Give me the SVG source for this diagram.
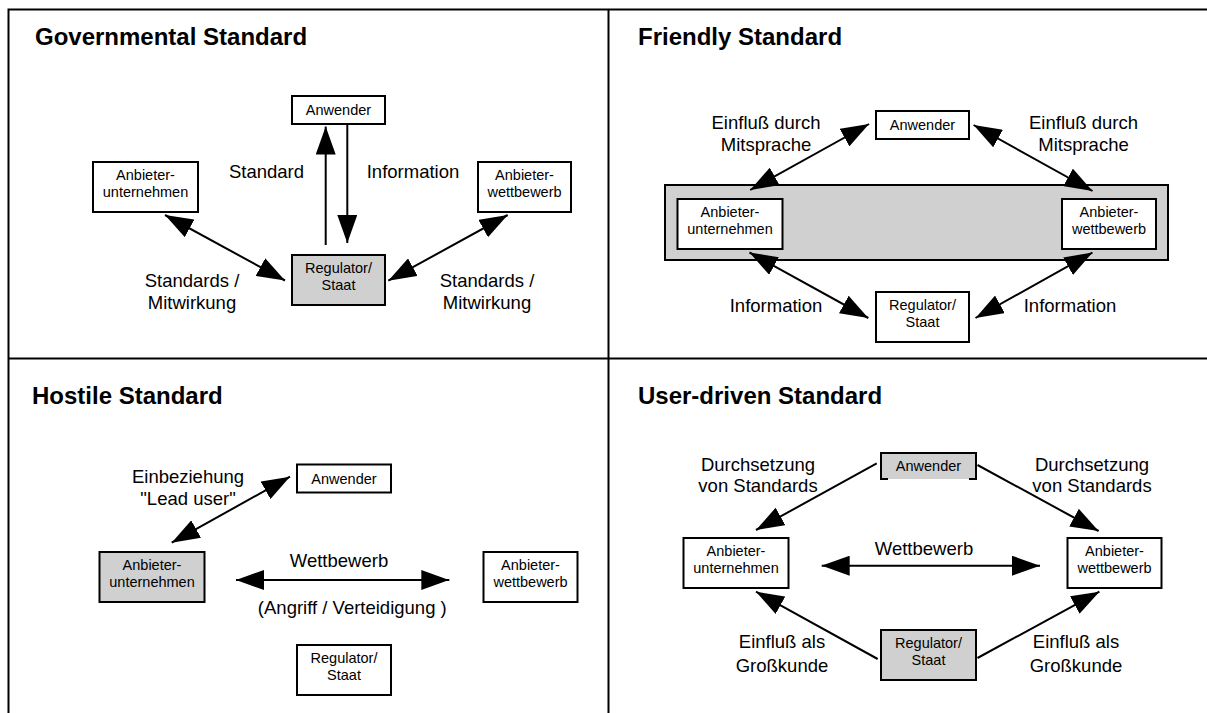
<svg xmlns="http://www.w3.org/2000/svg" width="1207" height="713" viewBox="0 0 1207 713">
<style>
  .frame{stroke:#000;stroke-width:2;fill:none}
  .box{fill:#fff;stroke:#000;stroke-width:2}
  .gbox{fill:#d0d0d0;stroke:#000;stroke-width:2}
  .bt{font-family:"Liberation Sans",Arial,Helvetica,sans-serif;font-size:14.5px;fill:#000;text-anchor:middle}
  .lb{font-family:"Liberation Sans",Arial,Helvetica,sans-serif;font-size:18.5px;fill:#000;text-anchor:middle}
  .tt{font-family:"Liberation Sans",Arial,Helvetica,sans-serif;font-size:24px;font-weight:bold;fill:#000}
  .ln{stroke:#000;stroke-width:2;fill:none}
  .dbl{marker-start:url(#ah);marker-end:url(#ah)}
  .one{marker-end:url(#ah)}
</style>
<defs>
  <marker id="ah" markerUnits="userSpaceOnUse" markerWidth="28" markerHeight="20" viewBox="0 0 28 20" refX="28" refY="10" orient="auto-start-reverse">
    <path d="M0,0 L28,10 L0,20 z" fill="#000"/>
  </marker>
</defs>
<rect width="1207" height="713" fill="#fff"/>
<g id="frame">
  <path class="frame" d="M8.5,713 V9.5 H1207 M608.5,9.5 V713 M8.5,358.5 H1207"/>
</g>

<!-- Governmental Standard -->
<text class="tt" x="35" y="45">Governmental Standard</text>
<g id="q1-anwender"><rect class="box" x="292" y="96" width="93" height="28"/><text class="bt" x="338.5" y="115">Anwender</text></g>
<g id="q1-unternehmen"><rect class="box" x="93" y="162" width="105" height="50"/><text class="bt" x="145.5" y="179.5">Anbieter-</text><text class="bt" x="145.5" y="197">unternehmen</text></g>
<g id="q1-wettbewerb"><rect class="box" x="478" y="162" width="93" height="50"/><text class="bt" x="524.5" y="179.5">Anbieter-</text><text class="bt" x="524.5" y="197">wettbewerb</text></g>
<g id="q1-regulator"><rect class="gbox" x="292" y="255" width="93" height="50"/><text class="bt" x="338.5" y="272.5">Regulator/</text><text class="bt" x="338.5" y="290">Staat</text></g>
<g id="q1-connectors">
  <line class="ln one" x1="325.7" y1="245" x2="325.7" y2="126.5"/>
  <line class="ln one" x1="347.3" y1="124" x2="347.3" y2="243"/>
  <line class="ln dbl" x1="165" y1="215" x2="285" y2="280.5"/>
  <line class="ln dbl" x1="507.7" y1="215" x2="388.3" y2="280.7"/>
</g>
<g id="q1-labels">
  <text class="lb" x="266.5" y="178">Standard</text>
  <text class="lb" x="413" y="178">Information</text>
  <text class="lb" x="192" y="287.3">Standards /</text>
  <text class="lb" x="192" y="309">Mitwirkung</text>
  <text class="lb" x="487" y="287.3">Standards /</text>
  <text class="lb" x="487" y="309">Mitwirkung</text>
</g>

<!-- Friendly Standard -->
<text class="tt" x="638" y="45">Friendly Standard</text>
<g id="q2-group"><rect class="gbox" x="665" y="185" width="503" height="75"/></g>
<g id="q2-anwender"><rect class="box" x="876" y="111" width="93" height="28"/><text class="bt" x="922.5" y="130">Anwender</text></g>
<g id="q2-unternehmen"><rect class="box" x="677.5" y="199" width="105" height="50"/><text class="bt" x="730" y="216.5">Anbieter-</text><text class="bt" x="730" y="234">unternehmen</text></g>
<g id="q2-wettbewerb"><rect class="box" x="1062" y="199" width="94" height="50"/><text class="bt" x="1109" y="216.5">Anbieter-</text><text class="bt" x="1109" y="234">wettbewerb</text></g>
<g id="q2-regulator"><rect class="box" x="876" y="292" width="93" height="50"/><text class="bt" x="922.5" y="309.5">Regulator/</text><text class="bt" x="922.5" y="327">Staat</text></g>
<g id="q2-connectors">
  <line class="ln dbl" x1="869" y1="124" x2="750.2" y2="190"/>
  <line class="ln dbl" x1="973.6" y1="125" x2="1092.5" y2="191"/>
  <line class="ln dbl" x1="749.5" y1="252.5" x2="868.3" y2="318"/>
  <line class="ln dbl" x1="1092.5" y1="252.5" x2="975.5" y2="318"/>
</g>
<g id="q2-labels">
  <text class="lb" x="766" y="129">Einfluß durch</text>
  <text class="lb" x="766" y="151">Mitsprache</text>
  <text class="lb" x="1083.5" y="129">Einfluß durch</text>
  <text class="lb" x="1083.5" y="151">Mitsprache</text>
  <text class="lb" x="776" y="311.7">Information</text>
  <text class="lb" x="1070" y="311.7">Information</text>
</g>

<!-- Hostile Standard -->
<text class="tt" x="32" y="404">Hostile Standard</text>
<g id="q3-anwender"><rect class="box" x="297" y="464.5" width="94" height="28"/><text class="bt" x="344" y="483.5">Anwender</text></g>
<g id="q3-unternehmen"><rect class="gbox" x="99.5" y="552" width="105" height="50"/><text class="bt" x="152" y="569.5">Anbieter-</text><text class="bt" x="152" y="587">unternehmen</text></g>
<g id="q3-wettbewerb"><rect class="box" x="483.5" y="552" width="94" height="50"/><text class="bt" x="530.5" y="569.5">Anbieter-</text><text class="bt" x="530.5" y="587">wettbewerb</text></g>
<g id="q3-regulator"><rect class="box" x="297" y="645" width="94" height="50"/><text class="bt" x="344" y="662.5">Regulator/</text><text class="bt" x="344" y="680">Staat</text></g>
<g id="q3-connectors">
  <line class="ln dbl" x1="290" y1="476.7" x2="171.7" y2="542.7"/>
  <line class="ln dbl" x1="236" y1="580" x2="449.3" y2="580"/>
</g>
<g id="q3-labels">
  <text class="lb" x="188" y="483.3">Einbeziehung</text>
  <text class="lb" x="188" y="505">"Lead user"</text>
  <text class="lb" x="339" y="566.7">Wettbewerb</text>
  <text class="lb" x="352.3" y="614">(Angriff / Verteidigung )</text>
</g>

<!-- User-driven Standard -->
<text class="tt" x="638" y="403.5">User-driven Standard</text>
<g id="q4-anwender">
  <rect x="881" y="453" width="95" height="26" fill="#d0d0d0"/>
  <path class="ln" d="M888,479 H881 V453 H976 V479 H969"/>
  <text class="bt" x="928.5" y="471">Anwender</text>
</g>
<g id="q4-unternehmen"><rect class="box" x="683.5" y="538" width="105" height="50"/><text class="bt" x="736" y="555.5">Anbieter-</text><text class="bt" x="736" y="573">unternehmen</text></g>
<g id="q4-wettbewerb"><rect class="box" x="1067.5" y="538" width="94" height="50"/><text class="bt" x="1114.5" y="555.5">Anbieter-</text><text class="bt" x="1114.5" y="573">wettbewerb</text></g>
<g id="q4-regulator"><rect class="gbox" x="881" y="630" width="95" height="50"/><text class="bt" x="928.5" y="647.5">Regulator/</text><text class="bt" x="928.5" y="665">Staat</text></g>
<g id="q4-connectors">
  <line class="ln one" x1="876.7" y1="463.3" x2="756" y2="530"/>
  <line class="ln one" x1="977.5" y1="465" x2="1098.6" y2="531"/>
  <line class="ln one" x1="877.7" y1="659" x2="756" y2="591.7"/>
  <line class="ln one" x1="977.5" y1="658" x2="1099.4" y2="591.7"/>
  <line class="ln dbl" x1="821.7" y1="565.7" x2="1040" y2="565.7"/>
</g>
<g id="q4-labels">
  <text class="lb" x="758" y="470.7">Durchsetzung</text>
  <text class="lb" x="758" y="491.7">von Standards</text>
  <text class="lb" x="1092" y="470.7">Durchsetzung</text>
  <text class="lb" x="1092" y="491.7">von Standards</text>
  <text class="lb" x="924" y="555">Wettbewerb</text>
  <text class="lb" x="782" y="648.3">Einfluß als</text>
  <text class="lb" x="782" y="671.7">Großkunde</text>
  <text class="lb" x="1076" y="648.3">Einfluß als</text>
  <text class="lb" x="1076" y="671.7">Großkunde</text>
</g>
</svg>
